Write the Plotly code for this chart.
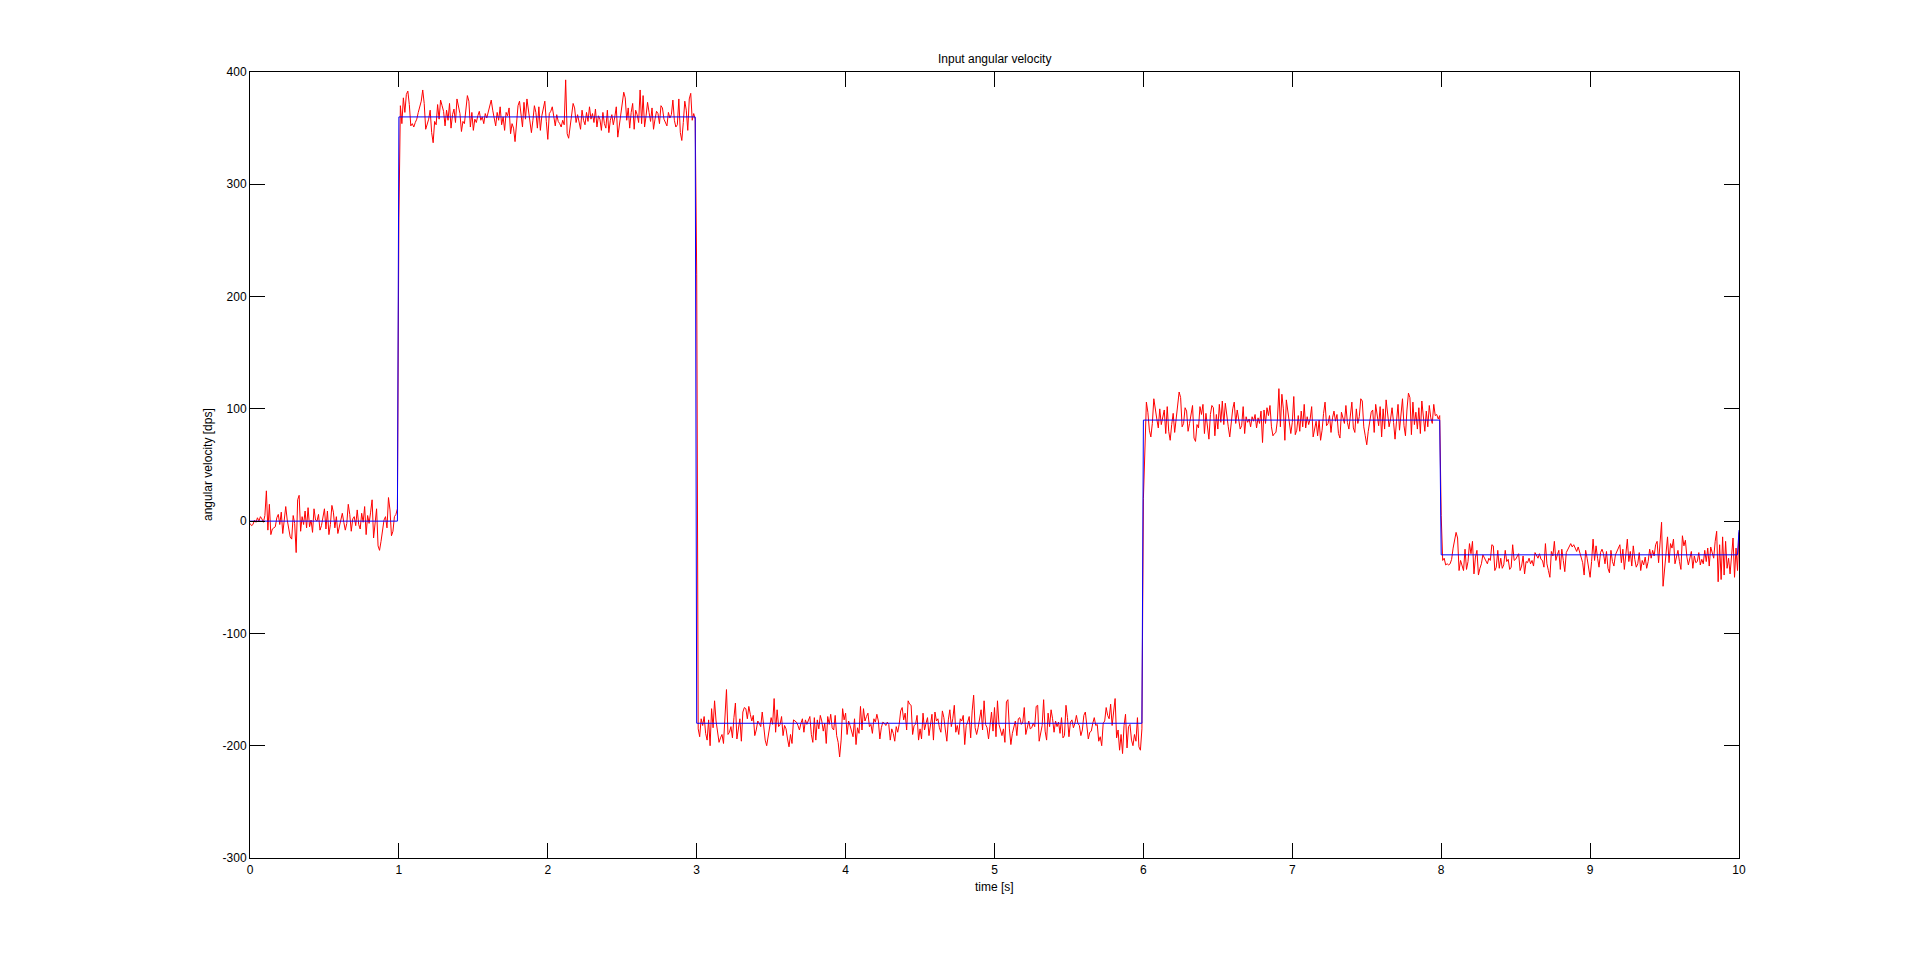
import numpy as np
import plotly.graph_objects as go

# ---- data ----
seg_starts = [0.0, 1.0, 3.0, 6.0, 8.0]
seg_ends = [1.0, 3.0, 6.0, 8.0, 10.0]
seg_levels = [0, 360, -180, 90, -30]   # reference (blue) angular velocity [dps]
ref_final_value = -8                   # last blue sample at t = 10 s

# measured (red) signal = level + offset, offsets read per 0.01 s sample
noise_0 = [
    -2, -4, -3, 1, -1, 3, 0, 4, 2, -1,
    5, 27, -8, 15, -12, -7, -6, -5, 3, 6,
    -3, 8, -11, 4, 13, 1, -9, -14, -16, 5,
    -2, -28, 19, 23, -9, 4, -3, 9, -6, 12,
    -5, 1, -10, 11, 1, 0, 6, -8, -4, 3,
    11, -7, 9, -12, -3, 14, 8, -6, 4, -11,
    -5, 0, 7, -1, -8, -2, 15, 6, -9, 2,
    4, -4, 10, -3, -7, 7, -1, 13, -12, 5,
    -2, 8, 19, -15, -4, 11, -22, -26, -18, -6,
    1, 4, -6, 21, 10, -13, -9, 4, 6, 11,
]
noise_1 = [
    -90, 10, -6, 17, 4, 20, 23, 11, -8, -6,
    -9, -5, -2, 4, 8, 14, 24, 12, -11, -7,
    -2, 6, -14, -23, -4, -7, 11, -2, 15, 10,
    5, -8, 6, -3, 12, -10, 2, 7, -5, 16,
    9, 3, -13, -4, -6, 8, 19, 14, -9, 4,
    -12, -2, -5, 1, 5, -3, 0, -6, 3, -1,
    5, 11, 15, 6, -1, -8, 4, -3, 9, -7,
    0, -12, 4, 1, 8, -15, -6, -10, -22, -7,
    10, 14, 3, -9, 13, -2, 16, 6, -6, -14,
    -3, 10, 4, -10, 9, -12, 1, 7, 14, -4,
    -20, 3, 5, 9, -2, -8, 2, -4, -6, -9,
    -3, -7, 33, -15, -19, -9, -3, 12, 8, -5,
    2, -4, -11, 6, -3, -7, 4, -4, 9, -2,
    3, -5, 7, -9, 1, -2, -12, 4, -6, -10,
    6, -14, -3, 2, -7, 0, 9, -18, -8, 3,
    11, 22, 17, -3, 8, -10, 4, 12, -11, 6,
    2, -5, 24, -6, 19, -9, 1, 13, 4, -4,
    8, -11, -2, 5, 3, -6, 10, 8, -2, -5,
    -8, 4, -1, 2, 15, -3, -9, -7, 16, -14,
    -21, -5, 14, 6, -12, 16, 21, -3, 3, -2,
]
noise_2 = [
    400, -5, -12, 4, -2, 6, -9, -15, 3, -20,
    13, -4, 20, 2, -7, -17, -13, -10, -18, 8,
    30, -10, -8, -3, -13, 5, 18, -14, -3, 4,
    -16, 10, 14, 13, 4, 15, 8, 2, 7, -11,
    -6, 2, 0, -3, 10, -2, -15, -20, -12, -4,
    5, -1, 22, -8, 12, -3, -1, 6, -11, -2,
    -5, -14, -21, -10, -18, 3, 2, 1, -2, -6,
    0, 4, -8, 3, -1, 2, 6, -10, -17, 5,
    -15, 3, -5, 7, 2, -7, 0, -18, 6, -1,
    8, -4, -6, 7, -11, -17, -30, -15, 13, 3,
    9, -10, 2, -2, -7, -12, 4, -19, -4, -9,
    15, -6, 13, 2, 6, 9, -3, -1, -9, 4,
    1, 8, 2, -14, -4, 1, 0, -2, 1, -1,
    -15, -5, -9, -16, -3, -8, -1, 11, 14, 3,
    9, -6, 20, 17, 16, -10, -2, -1, 7, -15,
    -5, -14, 9, -6, 0, 5, -11, -3, 8, -15,
    10, 2, 4, -4, -8, 11, 5, -6, -16, 3,
    12, -3, 4, 16, -8, -2, -10, 4, 2, 7,
    -19, -2, 1, 6, -13, 11, 25, -4, -10, -4,
    5, 12, -6, 20, -1, -4, -14, -2, 10, -7,
    14, -12, 20, -1, -6, -11, -5, -17, 19, 21,
    -5, -19, -9, -4, 2, -11, 4, 5, -1, 1,
    14, -10, -2, 2, -5, -4, 0, -3, 15, 16,
    -16, -9, -2, 21, -7, -15, 9, -3, 12, 4,
    -8, 2, -3, 1, -9, 5, -13, -11, 16, 5,
    -12, 1, 3, -4, 0, 7, 0, -2, -11, -6,
    7, 10, -3, -14, -8, -7, 0, 5, -2, -1,
    -16, -12, -20, 0, 2, 14, 7, 4, 17, -2,
    10, 22, -13, -6, -24, -10, -27, -2, 8, -22,
    -3, -1, -15, -20, -10, -16, 5, -21, -24, -5,
]
noise_3 = [
    -70, -16, 16, 7, -9, -15, -3, 19, 8, 1,
    -7, 10, -4, 2, 9, -12, 12, -10, -18, -4,
    6, -11, 3, 14, 25, 20, -6, -3, 11, 8,
    -10, -3, 4, 13, -16, -19, -4, -7, 12, 5,
    14, -12, 6, -6, -17, 5, 13, 11, -14, 5,
    -8, 14, -2, 17, -4, 15, 3, -6, -15, 0,
    10, 16, -3, 9, 2, -8, -5, 12, -12, 3,
    -2, 1, -6, 3, -1, 5, -7, 2, -3, 8,
    -20, 9, -3, 11, 4, 13, -6, -14, -12, -11,
    0, 28, -6, 23, 10, -18, 18, 7, -1, -12,
    -2, 21, -13, -9, 4, -10, 8, -6, 14, -7,
    3, -4, 1, 12, -15, -8, -1, -14, 0, -18,
    -9, 6, 16, -5, -3, 4, -11, 2, 8, -1,
    5, -12, -16, 7, 3, -3, 13, -2, -8, 5,
    16, -7, -11, 10, -3, 3, 19, 17, -6, -14,
    -22, -10, -3, 7, 9, -11, 14, 4, -5, 12,
    -15, 10, -8, 18, 4, -6, 1, 11, -2, -17,
    -1, 14, -9, 6, 19, -5, -14, 9, 24, 20,
    -13, 16, -4, 7, -8, 11, -12, 17, 3, -10,
    8, -6, 13, 2, -3, 14, 4, 5, 1, 4,
]
noise_4 = [
    35, -5, -3, -9, -8, -9, -8, -4, 6, 13,
    20, 15, -14, -5, -10, -14, 5, -13, -6, 10,
    1, 12, -17, -2, 4, -18, -12, -8, 0, -3,
    -6, -8, -3, -5, 9, 8, -14, -11, 4, -12,
    -3, -12, -9, 4, -6, -4, -13, -11, 9, -5,
    -4, -2, 1, -14, -10, -1, -17, -6, -7, -3,
    -8, -5, -10, 2, 0, -3, 1, -4, -5, -11,
    10, -8, -14, -20, 3, -1, 12, -5, 0, 4,
    -13, 5, -5, -15, 2, 5, 8, 10, 7, 9,
    6, 3, 7, 2, -1, -7, -18, 4, -3, -11,
    -20, -6, 14, -5, 8, -3, -11, 2, 5, 1,
    -8, 3, -12, -16, 4, -6, -10, 0, 3, 7,
    9, -7, 5, -13, 2, 14, -6, 3, -10, 8,
    -4, -11, -8, 2, -14, -5, -9, -2, -12, -6,
    5, -3, 4, -1, 9, 12, -7, 11, 29, -28,
    -12, 0, 16, -7, 10, 6, 14, -8, -3, 4,
    -6, -13, 17, 8, 13, -2, -9, -4, 3, -12,
    -1, -7, -6, 2, -9, -4, -8, 4, -6, 6,
    -10, 7, 1, -3, 12, 21, -24, 9, -22, 16,
    -18, 12, -12, -3, -17, 1, 15, -20, 6, -14,
    -2,
]
noise_segments = [noise_0, noise_1, noise_2, noise_3, noise_4]

title_text = "Input angular velocity"
x_label = "time [s]"
y_label = "angular velocity [dps]"
x_ticks = list(range(0, 11))
y_ticks = list(range(-300, 401, 100))
y_tick_labels = [str(v) for v in y_ticks]   # plain hyphen for negatives

# ---- build series ----
t_all, ref_all, meas_all = [], [], []
for k, (s, e, lev, nz) in enumerate(zip(seg_starts, seg_ends, seg_levels, noise_segments)):
    last = k == len(seg_starts) - 1
    tt = np.linspace(s, e, len(nz), endpoint=last)
    ref = np.full(len(nz), float(lev))
    if last:
        ref[-1] = ref_final_value
    t_all.append(tt)
    ref_all.append(ref)
    meas_all.append(ref + np.array(nz, dtype=float))
t_all = np.concatenate(t_all)
ref_all = np.concatenate(ref_all)
meas_all = np.concatenate(meas_all)

FONT = "Liberation Sans, Arial, sans-serif"

fig = go.Figure()
fig.add_trace(go.Scatter(x=t_all, y=meas_all, mode="lines",
                         line=dict(color="#ff0000", width=1), showlegend=False))
fig.add_trace(go.Scatter(x=t_all, y=ref_all, mode="lines",
                         line=dict(color="#0000ff", width=1), showlegend=False))

axis_common = dict(showline=True, linecolor="black", linewidth=1, mirror="ticks",
                   ticks="inside", ticklen=15, tickwidth=1, tickcolor="black",
                   showgrid=False, zeroline=False,
                   tickfont=dict(family=FONT, size=12, color="black"))

fig.update_layout(
    width=1921, height=964,
    margin=dict(l=250, r=182, t=72, b=106, pad=0),
    paper_bgcolor="white", plot_bgcolor="white",
    xaxis=dict(range=[0, 10], tickvals=x_ticks, ticklabelstandoff=1, **axis_common),
    yaxis=dict(range=[-300, 400], tickvals=y_ticks, ticktext=y_tick_labels,
               ticklabelstandoff=0, **axis_common),
    annotations=[
        dict(text=title_text, x=0.5, y=1, xref="paper", yref="paper",
             xanchor="center", yanchor="bottom", yshift=4, showarrow=False,
             font=dict(family=FONT, size=12, color="black")),
        dict(text=x_label, x=0.5, y=0, xref="paper", yref="paper",
             xanchor="center", yanchor="top", yshift=-20, showarrow=False,
             font=dict(family=FONT, size=12, color="black")),
        dict(text=y_label, x=0, y=0.5, xref="paper", yref="paper",
             xanchor="right", yanchor="middle", xshift=-33, textangle=-90,
             showarrow=False, font=dict(family=FONT, size=12, color="black")),
    ],
)

fig.write_html("out.html", config={"displayModeBar": False},
               post_script="document.body.style.margin='0';document.body.style.overflow='hidden';")
